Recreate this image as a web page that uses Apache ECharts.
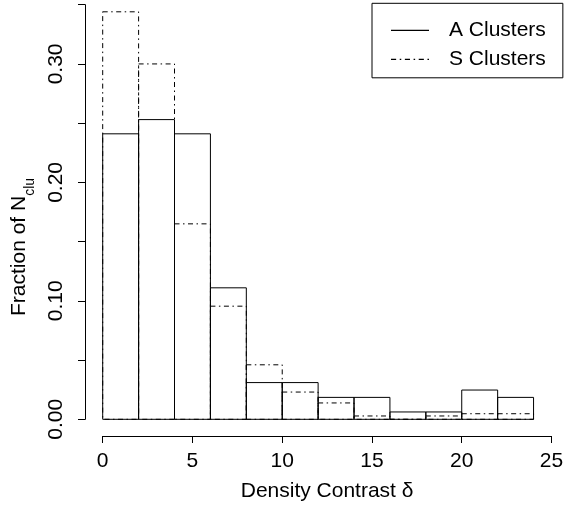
<!DOCTYPE html>
<html>
<head>
<meta charset="utf-8">
<script src="https://cdn.jsdelivr.net/npm/echarts@6/dist/echarts.min.js"></script>
<style>
  html, body { margin: 0; padding: 0; background: #fff; }
  #chart { width: 570px; height: 511px; }
</style>
</head>
<body>
<div id="chart"></div>
<script>
// histogram bins (density contrast), width 2
const binEdges = [0, 2, 4, 6, 8, 10, 12, 14, 16, 18, 20, 22, 24]
// fraction of clusters per bin
const aClusters = [0.241, 0.253, 0.241, 0.111, 0.031, 0.031, 0.0185, 0.0185, 0.0062, 0.0062, 0.0247, 0.0185]
const sClusters = [0.344, 0.300, 0.165, 0.0955, 0.046, 0.023, 0.0138, 0.0028, 0, 0.0028, 0.0047, 0.0047]
const xTicks = [0, 5, 10, 15, 20, 25]

const FONT = 'Liberation Sans, Arial, Helvetica, sans-serif'
const DOTDASH = [5, 3.5, 1.5, 3.5]

// [left, right, value] rows for the custom series
function binRows(values) {
    return values.map((v, i) => [binEdges[i], binEdges[i + 1], v])
}

// each bin is an outlined rectangle, like R's hist()
function histRect(dash) {
    return function (params, api) {
        const lo = api.coord([api.value(0), 0])
        const hi = api.coord([api.value(1), api.value(2)])
        return {
            type: 'rect',
            shape: { x: lo[0], y: hi[1], width: hi[0] - lo[0], height: lo[1] - hi[1] },
            style: { fill: 'none', stroke: '#000', lineWidth: 1, lineDash: dash }
        }
    }
}

const chart = echarts.init(document.getElementById('chart'), null, { renderer: 'canvas' })

chart.setOption({
    backgroundColor: '#fff',
    animation: false,
    textStyle: { fontFamily: FONT, color: '#000' },
    grid: {
        left: 102.7, right: 18.5, top: 4.7, bottom: 91.7,
        outerBoundsMode: 'none'
    },
    legend: {
        left: 372, top: 3.3,
        orient: 'vertical',
        selectedMode: false,
        borderColor: '#000', borderWidth: 1, borderRadius: 0,
        padding: [16.5, 17, 8, 19],
        itemWidth: 38, itemHeight: 22, itemGap: 8,
        textStyle: { fontFamily: FONT, fontSize: 21, color: '#000', padding: [0, 0, 0, 15] },
        data: [
            { name: 'A Clusters', icon: 'path://M0,0h38v1.2h-38z', itemStyle: { color: '#000' } },
            {
                name: 'S Clusters',
                icon: 'path://M0,0h5v1.2h-5z M8.5,0h1.5v1.2h-1.5z M13.5,0h5v1.2h-5z M22,0h1.5v1.2h-1.5z M27,0h5v1.2h-5z M35.5,0h1.5v1.2h-1.5z',
                itemStyle: { color: '#000' }
            }
        ]
    },
    xAxis: {
        type: 'value',
        min: xTicks[0], max: xTicks[xTicks.length - 1], interval: 5,
        offset: 16.7,
        name: 'Density Contrast δ',
        nameLocation: 'middle',
        nameGap: 45,
        nameTextStyle: { fontFamily: FONT, fontSize: 21, color: '#000' },
        axisLine: { show: true, onZero: false, lineStyle: { color: '#000', width: 1 } },
        axisTick: { show: true, length: 7, lineStyle: { color: '#000', width: 1 } },
        axisLabel: { fontFamily: FONT, fontSize: 21, color: '#000', margin: 15 },
        splitLine: { show: false }
    },
    yAxis: {
        type: 'value',
        min: 0, max: 0.35, interval: 0.05,
        offset: 17.7,
        name: '{m|Fraction of N}{s|clu}',
        nameLocation: 'middle',
        nameGap: 37,
        nameTextStyle: {
            fontFamily: FONT, color: '#000',
            padding: [0, 70, 0, 0],
            rich: {
                // subscript sits at the bottom of a taller line
                m: { fontFamily: FONT, fontSize: 21, lineHeight: 21, verticalAlign: 'top', color: '#000' },
                s: { fontFamily: FONT, fontSize: 14, lineHeight: 29, verticalAlign: 'bottom', color: '#000' }
            }
        },
        axisLine: { show: true, onZero: false, lineStyle: { color: '#000', width: 1 } },
        axisTick: { show: true, length: 7, lineStyle: { color: '#000', width: 1 } },
        axisLabel: {
            fontFamily: FONT, fontSize: 21, color: '#000', margin: 18.5, rotate: 90,
            formatter: (v) => (Math.round(v * 100) % 10 === 0 ? v.toFixed(2) : '')
        },
        splitLine: { show: false }
    },
    series: [
        {
            name: 'S Clusters',
            type: 'custom',
            itemStyle: { color: '#000' },
            renderItem: histRect(DOTDASH),
            data: binRows(sClusters)
        },
        {
            name: 'A Clusters',
            type: 'custom',
            itemStyle: { color: '#000' },
            renderItem: histRect(null),
            data: binRows(aClusters)
        }
    ]
})
</script>
</body>
</html>
